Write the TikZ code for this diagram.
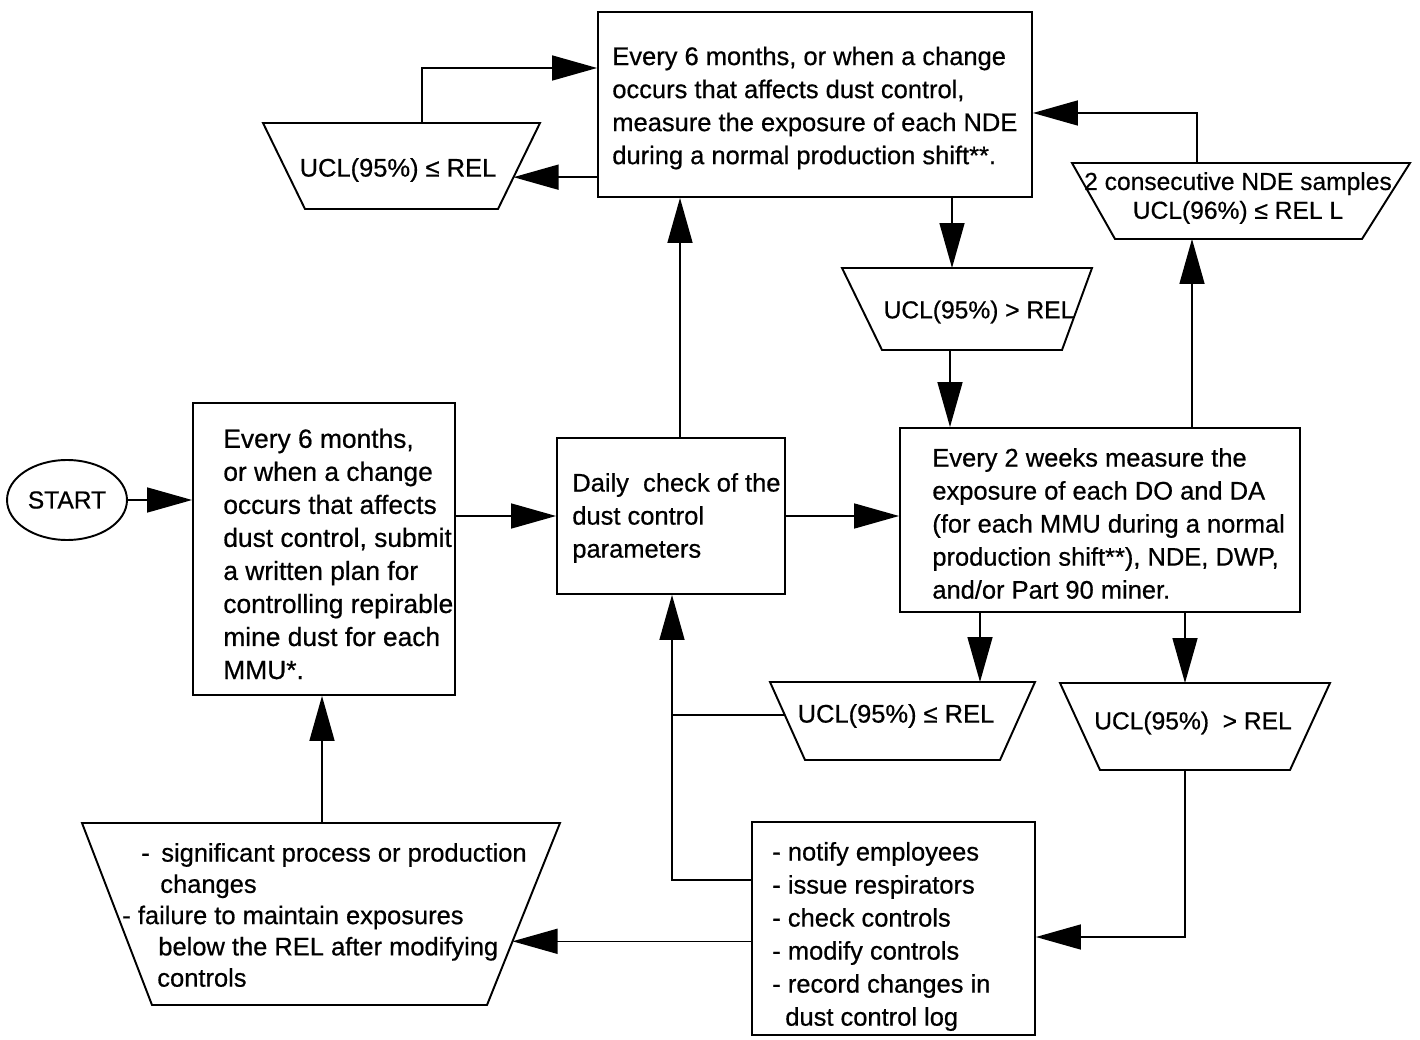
\documentclass[tikz,border=0pt]{standalone}
\usepackage{fontspec}
\setmainfont{Liberation Sans}[FakeBold=0.6]
\usetikzlibrary{arrows.meta,calc,shapes.geometric}
\newcommand{\fA}{\fontsize{14.5}{18.8}\selectfont}
\newcommand{\fB}{\fontsize{15}{18.8}\selectfont}
\newcommand{\fC}{\fontsize{14}{18.8}\selectfont}
\newcommand{\fD}{\fontsize{14.5}{17.8}\selectfont}
\newcommand{\fE}{\fontsize{14}{16.4}\selectfont}
\begin{document}
\begin{tikzpicture}[x=0.02cm,y=-0.02cm,
  boxnode/.style={draw, line width=1.1pt, inner sep=0pt},
  trap/.style={draw, line width=1.1pt, line join=miter},
  txt/.style={align=left, inner sep=0pt, anchor=west},
  ctxt/.style={align=center, inner sep=0pt},
  conn/.style={line width=0.9pt},
  arr/.style={conn, -{Triangle[length=0.9cm,width=0.5cm]}}]
\fill[white] (0,0) rectangle (1420,1040);
\useasboundingbox (0,0) rectangle (1420,1040);

% main boxes
\node[draw, ellipse, line width=1.1pt, minimum width=2.4cm, minimum height=1.6cm, inner sep=0pt, font=\fC] (start) at (67,500) {START};
\node[boxnode, minimum width=5.24cm, minimum height=5.84cm] (plan) at (324,549) {};
\node[boxnode, minimum width=4.56cm, minimum height=3.12cm] (daily) at (671,516) {};
\node[boxnode, minimum width=8.68cm, minimum height=3.7cm] (top) at (815,104.5) {};
\node[boxnode, minimum width=8cm, minimum height=3.68cm] (weeks) at (1100,520) {};
\node[boxnode, minimum width=5.66cm, minimum height=4.26cm] (notify) at (893.5,928.5) {};

% texts
\node[txt, font=\fA] (toptxt) at (612,108) {Every 6 months, or when a change\\occurs that affects dust control,\\measure the exposure of each NDE\\during a normal production shift**.};
\node[txt, font=\fB] (plantxt) at (223,554) {Every 6 months,\\or when a change\\occurs that affects\\dust control, submit\\a written plan for\\controlling repirable\\mine dust for each\\MMU*.};
\node[txt, font=\fA] (dailytxt) at (572,518) {Daily\ \ check of the\\dust control\\parameters};
\node[txt, font=\fA] (weekstxt) at (932,523.5) {Every 2 weeks measure the\\exposure of each DO and DA\\(for each MMU during a normal\\production shift**), NDE, DWP,\\and/or Part 90 miner.};
\node[txt, font=\fA] (notifytxt) at (772,936.5) {- notify employees\\- issue respirators\\- check controls\\- modify controls\\- record changes in\\\hspace*{0.26cm}dust control log};

% trapezoids
\coordinate (t1a) at (263,123); \coordinate (t1b) at (540,123);
\coordinate (t1c) at (498,209); \coordinate (t1d) at (305,209);
\draw[trap] (t1a) -- (t1b) -- (t1c) -- (t1d) -- cycle;
\node[ctxt, font=\fA] (t1txt) at (398,170) {UCL(95\%) ≤ REL};

\coordinate (t2a) at (842,268); \coordinate (t2b) at (1092,268);
\coordinate (t2c) at (1062,350); \coordinate (t2d) at (882,350);
\draw[trap] (t2a) -- (t2b) -- (t2c) -- (t2d) -- cycle;
\node[ctxt, font=\fC] (t2txt) at (979,312) {UCL(95\%) > REL};

\coordinate (t3a) at (1072,163); \coordinate (t3b) at (1410,163);
\coordinate (t3c) at (1362,239); \coordinate (t3d) at (1115,239);
\draw[trap] (t3a) -- (t3b) -- (t3c) -- (t3d) -- cycle;
\node[ctxt, font=\fE] (t3txt) at (1238,198) {2 consecutive NDE samples\\UCL(96\%) ≤ REL L};

\coordinate (t4a) at (770,682); \coordinate (t4b) at (1035,682);
\coordinate (t4c) at (1000,760); \coordinate (t4d) at (805,760);
\draw[trap] (t4a) -- (t4b) -- (t4c) -- (t4d) -- cycle;
\node[ctxt, font=\fA] (t4txt) at (896,716) {UCL(95\%) ≤ REL};

\coordinate (t5a) at (1060,683); \coordinate (t5b) at (1330,683);
\coordinate (t5c) at (1290,770); \coordinate (t5d) at (1100,770);
\draw[trap] (t5a) -- (t5b) -- (t5c) -- (t5d) -- cycle;
\node[ctxt, font=\fC] (t5txt) at (1193,723) {UCL(95\%)\ \ > REL};

\coordinate (t6a) at (82,823); \coordinate (t6b) at (560,823);
\coordinate (t6c) at (487,1005); \coordinate (t6d) at (152,1005);
\draw[trap] (t6a) -- (t6b) -- (t6c) -- (t6d) -- cycle;
\node[txt, font=\fD] (t6txt) at (122,915) {\hspace*{0.38cm}-\hspace{0.23cm}significant process or production\\\hspace*{0.76cm}changes\\- failure to maintain exposures\\\hspace*{0.72cm}below the REL after modifying\\\hspace*{0.7cm}controls};

% connector points
\coordinate (t1e) at ($(t1b)!0.63!(t1c)$);
\coordinate (t1top) at (422,123); \coordinate (t1up) at (422,68);
\coordinate (t2top) at (952,268); \coordinate (t2bot) at (950,350);
\coordinate (t3bot) at (1192,239); \coordinate (t3top) at (1197,163); \coordinate (t3up) at (1197,113);
\coordinate (t4top) at (980,682); \coordinate (t4l) at ($(t4a)!0.42!(t4d)$);
\coordinate (t5top) at (1185,683); \coordinate (t5bot) at (1185,770); \coordinate (t5corner) at (1185,937);
\coordinate (t6r) at ($(t6b)!0.65!(t6c)$); \coordinate (t6top) at (322,823);
\coordinate (loopc) at (672,880);
\coordinate (dailyup) at (680,438);

% connectors
\draw[arr] (start.east) -- (start.east -| plan.west);
\draw[arr] (daily.west -| plan.east) -- (daily.west);
\draw[arr] (daily.east) -- (daily.east -| weeks.west);
\draw[arr] (dailyup) -- (dailyup |- top.south);
\draw[arr] (t2top |- top.south) -- (t2top);
\draw[arr] (t2bot) -- (t2bot |- weeks.north);
\draw[arr] (t3bot |- weeks.north) -- (t3bot);
\draw[arr] (t3top) -- (t3up) -- (t3up -| top.east);
\draw[arr] (t1e -| top.west) -- (t1e);
\draw[arr] (t1top) -- (t1up) -- (t1up -| top.west);
\draw[arr] (t4top |- weeks.south) -- (t4top);
\draw[arr] (t5top |- weeks.south) -- (t5top);
\draw[arr] (t5bot) -- (t5corner) -- (t5corner -| notify.east);
\draw[conn] (t4l) -- (t4l -| loopc);
\draw[arr] (loopc -| notify.west) -- (loopc) -- (loopc |- daily.south);
\draw[arr] (t6r -| notify.west) -- (t6r);
\draw[arr] (t6top) -- (t6top |- plan.south);
\end{tikzpicture}
\end{document}
